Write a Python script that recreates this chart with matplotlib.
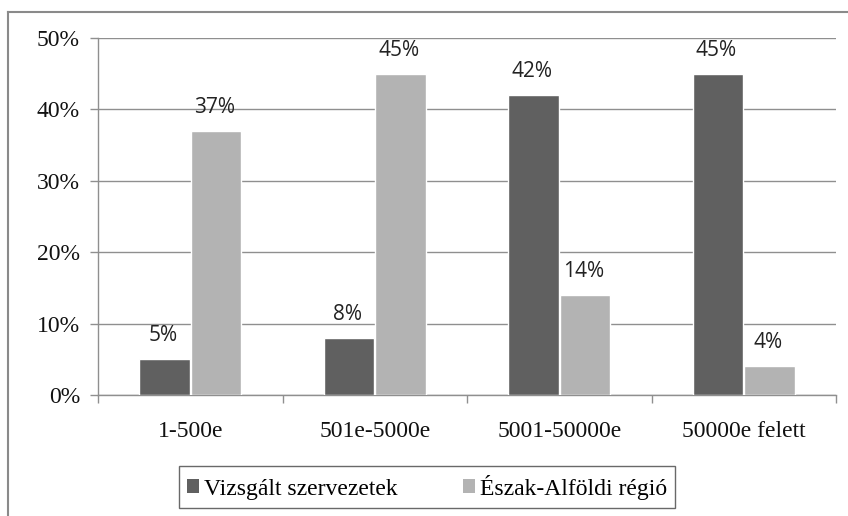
import matplotlib
matplotlib.use("Agg")
import matplotlib.pyplot as plt
import numpy as np
from matplotlib.lines import Line2D
from matplotlib.ticker import FuncFormatter, FixedLocator

categories = ["1-500e", "501e-5000e", "5001-50000e", "50000e felett"]
series_names = ["Vizsgált szervezetek", "Észak-Alföldi régió"]
vizsgalt = [5, 8, 42, 45]
eszak = [37, 45, 14, 4]
colors = ["#606060", "#b3b3b3"]

fig = plt.figure(figsize=(8.48, 5.16), dpi=100)
ax = fig.add_axes([98/848, 1-395/516, (836-98)/848, (395-38)/516])

x = np.arange(len(categories))
w = 0.272
b1 = ax.bar(x - w/2 - 0.004, vizsgalt, width=w, color=colors[0], edgecolor="white", linewidth=1.0, zorder=3, label=series_names[0])
b2 = ax.bar(x + w/2 + 0.004, eszak, width=w, color=colors[1], edgecolor="white", linewidth=1.0, zorder=3, label=series_names[1])

for bars, vals in ((b1, vizsgalt), (b2, eszak)):
    for r, v in zip(bars, vals):
        ax.annotate(f"{v}%", (r.get_x() + r.get_width()/2, v), xytext=(-1, 13), textcoords="offset points",
                    ha="center", va="baseline", fontsize=15, family="Open Sans", color="#222222", zorder=4)

ax.set_xlim(-0.5, len(categories) - 0.5)
ax.set_ylim(0, 50)
ax.set_yticks([0, 10, 20, 30, 40, 50])
ax.yaxis.set_major_formatter(FuncFormatter(lambda v, p: f"{int(v)}%"))
ax.yaxis.grid(True, color="#8f8f8f", linewidth=1.0, zorder=0)
ax.set_axisbelow(True)

ax.set_xticks(x)
ax.set_xticklabels(categories)
ax.xaxis.set_minor_locator(FixedLocator(np.arange(-0.5, len(categories), 1.0)))
ax.tick_params(axis="x", which="major", length=0, pad=19, labelsize=17)
ax.tick_params(axis="x", which="minor", length=6, color="#8f8f8f", width=1.0)
ax.tick_params(axis="y", which="major", length=6, color="#8f8f8f", width=1.0, pad=7, labelsize=17)
for lab in ax.get_xticklabels() + ax.get_yticklabels():
    lab.set_family("Liberation Serif")
    lab.set_color("#111111")

for s in ["top", "right"]:
    ax.spines[s].set_visible(False)
for s in ["left", "bottom"]:
    ax.spines[s].set_color("#8f8f8f")
    ax.spines[s].set_linewidth(1.0)

leg = fig.legend(handles=[b1, b2], labels=series_names, loc="center", bbox_to_anchor=(427/848, 1-487/516),
                 ncol=2, frameon=True, fancybox=False, edgecolor="#444444", handlelength=0.5, handleheight=0.5,
                 handletextpad=0.2, columnspacing=2.8, borderpad=0.35,
                 prop={"family": "Liberation Serif", "size": 17})
leg.get_frame().set_linewidth(1.0)
for h in leg.legend_handles:
    h.set_edgecolor("none")

# outer chart border (left and top)
fig.add_artist(Line2D([8/848, 8/848], [0, 1-12/516], transform=fig.transFigure, color="#8a8a8a", linewidth=1.5))
fig.add_artist(Line2D([8/848, 1], [1-12/516, 1-12/516], transform=fig.transFigure, color="#8a8a8a", linewidth=1.5))

fig.savefig("out.png", dpi=100)
